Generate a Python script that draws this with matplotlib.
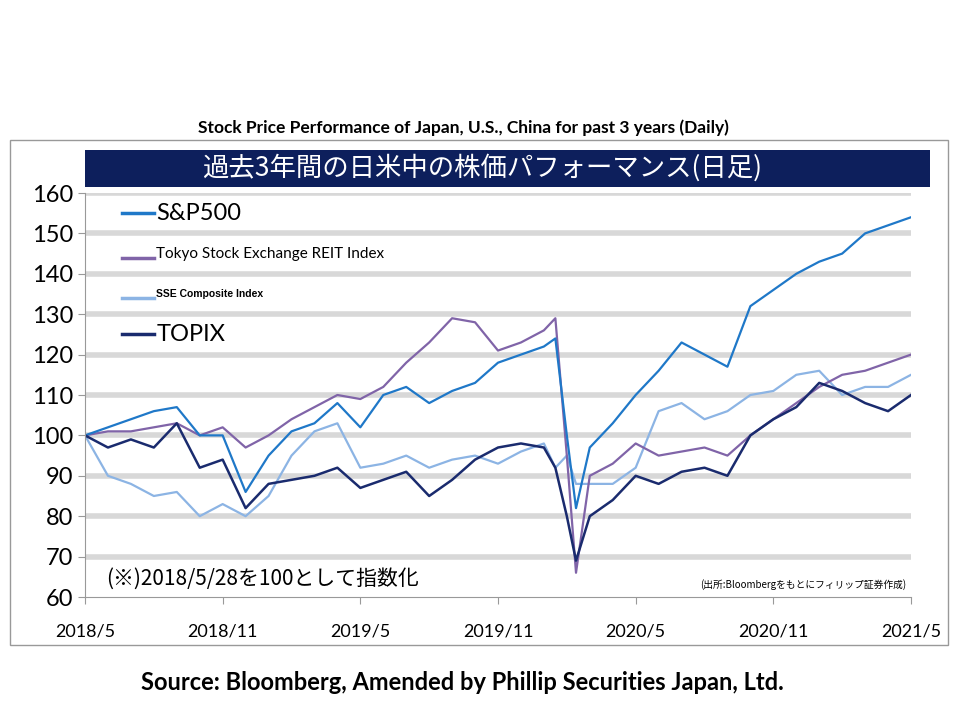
import matplotlib.pyplot as plt
import matplotlib.patches as mpatches

# months since 2018/5
months = [0, 1, 2, 3, 4, 5, 6, 7, 8, 9, 10, 11, 12, 13, 14, 15, 16, 17, 18, 19, 20, 20.5,
          21, 21.4, 22, 23, 24, 25, 26, 27, 28, 29, 30, 31, 32, 33, 34, 35, 36]
sp500 = [100, 102, 104, 106, 107, 100, 100, 86, 95, 101, 103, 108, 102, 110, 112, 108, 111, 113,
         118, 120, 122, 124, 100, 82, 97, 103, 110, 116, 123, 120, 117, 132, 136, 140, 143, 145, 150, 152, 154]
reit = [100, 101, 101, 102, 103, 100, 102, 97, 100, 104, 107, 110, 109, 112, 118, 123, 129, 128,
        121, 123, 126, 129, 95, 66, 90, 93, 98, 95, 96, 97, 95, 100, 104, 108, 112, 115, 116, 118, 120]
sse = [100, 90, 88, 85, 86, 80, 83, 80, 85, 95, 101, 103, 92, 93, 95, 92, 94, 95,
       93, 96, 98, 92, 95, 88, 88, 88, 92, 106, 108, 104, 106, 110, 111, 115, 116, 110, 112, 112, 115]
topix = [100, 97, 99, 97, 103, 92, 94, 82, 88, 89, 90, 92, 87, 89, 91, 85, 89, 94,
         97, 98, 97, 92, 80, 69, 80, 84, 90, 88, 91, 92, 90, 100, 104, 107, 113, 111, 108, 106, 110]
yticks = [60, 70, 80, 90, 100, 110, 120, 130, 140, 150, 160]
xticklabels = ["2018/5", "2018/11", "2019/5", "2019/11", "2020/5", "2020/11", "2021/5"]

c_sp, c_reit, c_sse, c_tp = "#1f78c8", "#8064a8", "#8cb4e4", "#1a2b6e"

fig = plt.figure(figsize=(9.6, 7.2), dpi=100)
# outer frame
fig.patches.append(mpatches.Rectangle((10/960, 75/720), 938/960, 505/720, transform=fig.transFigure,
                                      fill=False, edgecolor="#999999", lw=1))
# banner
fig.patches.append(mpatches.Rectangle((85/960, 533/720), 845/960, 37/720, transform=fig.transFigure,
                                      facecolor="#0d1f5c", edgecolor="none"))
fig.text(482/960, 552/720, "過去3年間の日米中の株価パフォーマンス(日足)", color="white", fontsize=19,
         ha="center", va="center", family="Noto Sans CJK JP")
fig.text(463/960, 592/720, "Stock Price Performance of Japan, U.S., China for past 3 years (Daily)",
         ha="center", va="center", fontsize=12.5, fontweight="bold", family="Lato")
fig.text(462/960, 37/720, "Source: Bloomberg, Amended by Phillip Securities Japan, Ltd.",
         ha="center", va="center", fontsize=17, fontweight="bold", family="Lato")

ax = fig.add_axes([85/960, 123/720, 826/960, 404/720])
for v in yticks[1:]:
    ax.axhline(v, color="#d8d8d8", lw=4, zorder=0)
ax.plot(months, sse, color=c_sse, lw=1.6)
ax.plot(months, reit, color=c_reit, lw=1.6)
ax.plot(months, sp500, color=c_sp, lw=1.6)
ax.plot(months, topix, color=c_tp, lw=1.8)
ax.set_xlim(0, 36)
ax.set_ylim(60, 160)
ax.set_yticks(yticks)
ax.set_xticks(range(0, 37, 6))
ax.set_xticklabels(xticklabels)
ax.tick_params(axis="y", labelsize=17, length=5, color="#999999")
ax.tick_params(axis="x", labelsize=13, length=5, pad=14, color="#999999")
for t in ax.get_yticklabels() + ax.get_xticklabels():
    t.set_family("Lato")
for s in ["top", "right"]:
    ax.spines[s].set_visible(False)
for s in ["left", "bottom"]:
    ax.spines[s].set_color("#999999")

# legend
leg = [("S&P500", c_sp, 17, None, "Lato"), ("Tokyo Stock Exchange REIT Index", c_reit, 11, None, "Lato"),
       ("SSE Composite Index", c_sse, 7.5, "bold", "Liberation Sans"), ("TOPIX", c_tp, 17, None, "Lato")]
for i, (lab, c, fs, fw, fam) in enumerate(leg):
    y = 155 - i * 10
    if i in (1, 2):
        ax.add_patch(mpatches.Rectangle((3.0, y - 4), 11.2 if i == 1 else 8, 8, facecolor="white",
                                        edgecolor="none", zorder=2))
    dy = 0 if i in (0, 3) else -1
    ax.plot([1.6, 3.0], [y + dy, y + dy], color=c, lw=2.5, zorder=3)
    ax.text(3.1, y, lab, fontsize=fs, fontweight=fw, family=fam, va="center", zorder=3)

ax.text(0.9, 64.5, "(※)2018/5/28を100として指数化", fontsize=15, family="Noto Sans CJK JP", va="center")
ax.text(35.8, 63, "(出所:Bloombergをもとにフィリップ証券作成)", fontsize=7, family="Noto Sans CJK JP",
        ha="right", va="center")
fig.savefig("out.png")
